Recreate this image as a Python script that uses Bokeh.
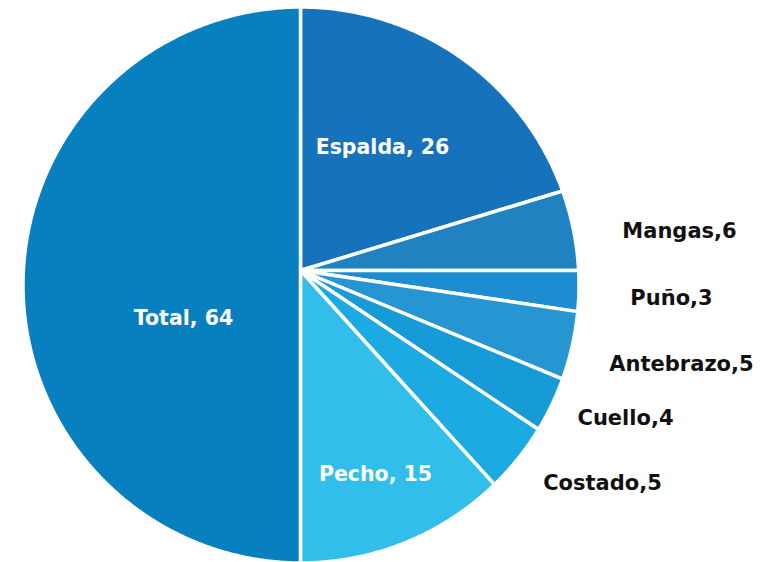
import numpy as np
from bokeh.plotting import figure
from bokeh.models import Range1d, ColumnDataSource
from bokeh.embed import file_html
from bokeh.resources import INLINE
from bokeh.core.properties import value

# ---- data ----
categories = ["Espalda", "Mangas", "Puño", "Antebrazo", "Cuello", "Costado", "Pecho", "Total"]
values = [26, 6, 3, 5, 4, 5, 15, 64]
colors = ["#1672BA", "#2082C1", "#1E8CD0", "#2696D2", "#169BD7", "#1CAAE2", "#32BEEB", "#0880C0"]
label_inside = [True, False, False, False, False, False, True, True]

# ---- layout (pixel positions of labels) ----
label_x = [382, 679, 671, 681, 625, 602, 375, 183]
label_y = [146, 230, 297, 363, 417, 482, 473, 317]

W, H = 760, 562
AX, AY = 300.0, 270.0      # point where slices meet
CX, CY = 300.5, 284.5      # centre of outer circle
R = 278.0

total = float(sum(values))
cum = np.concatenate([[0.0], np.cumsum(values)])
start = -np.pi / 2 + 2 * np.pi * cum[:-1] / total
end = -np.pi / 2 + 2 * np.pi * cum[1:] / total

xs, ys = [], []
vx, vy = AX - CX, AY - CY
for a0, a1 in zip(start, end):
    n = max(8, int((a1 - a0) / (2 * np.pi) * 720))
    th = np.linspace(a0, a1, n)
    dx, dy = np.cos(th), np.sin(th)
    vd = vx * dx + vy * dy
    t = -vd + np.sqrt(vd ** 2 - (vx ** 2 + vy ** 2) + R ** 2)
    xs.append([AX] + list(AX + t * dx))
    ys.append([AY] + list(AY + t * dy))

src = ColumnDataSource(dict(xs=xs, ys=ys, color=colors, cat=categories))

p = figure(width=W, height=H, x_range=Range1d(0, W), y_range=Range1d(H, 0),
           output_backend="svg", toolbar_location=None, min_border=0,
           outline_line_color=None, background_fill_color="white",
           border_fill_color="white")
p.axis.visible = False
p.grid.visible = False

p.patches("xs", "ys", source=src, fill_color="color", line_color="white",
          line_width=3.5, line_join="round")

texts = [f"{c}, {v}" if ins else f"{c},{v}" for c, v, ins in zip(categories, values, label_inside)]
tcolors = ["white" if ins else "#111111" for ins in label_inside]
tsizes = ["20.5px" if ins else "21px" for ins in label_inside]
lsrc = ColumnDataSource(dict(x=label_x, y=label_y, text=texts, c=tcolors, s=tsizes))
p.text("x", "y", text="text", source=lsrc, text_color="c",
       text_font=value("DejaVu Sans"), text_font_style="bold", text_font_size="s",
       text_align="center", text_baseline="middle")

open("out.html", "w").write(file_html(p, INLINE))
